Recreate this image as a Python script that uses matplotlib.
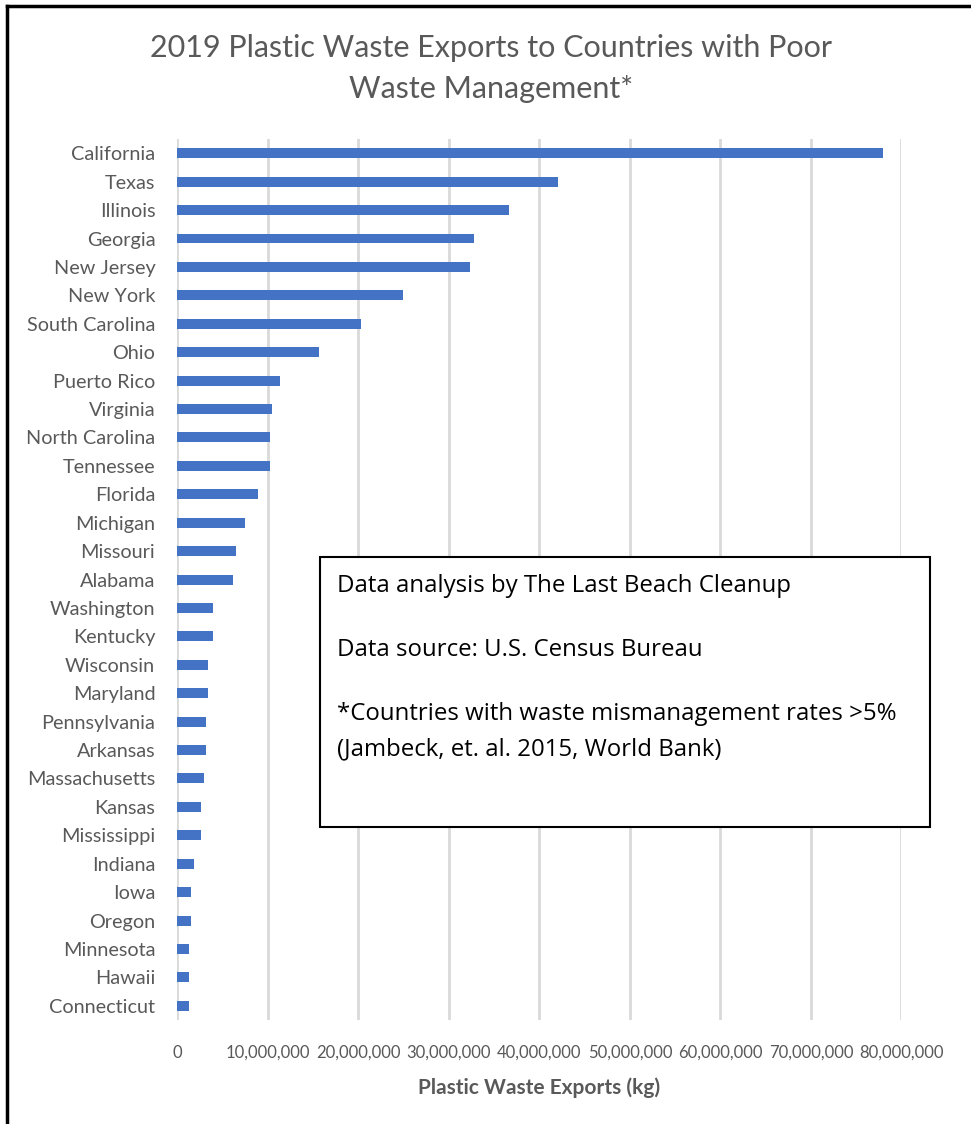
"""2019 plastic waste exports by US state (horizontal bar chart)."""

import matplotlib.pyplot as plt
from matplotlib.lines import Line2D
from matplotlib.patches import Rectangle
from matplotlib.ticker import FuncFormatter

states = [
    "California", "Texas", "Illinois", "Georgia", "New Jersey", "New York",
    "South Carolina", "Ohio", "Puerto Rico", "Virginia", "North Carolina",
    "Tennessee", "Florida", "Michigan", "Missouri", "Alabama", "Washington",
    "Kentucky", "Wisconsin", "Maryland", "Pennsylvania", "Arkansas",
    "Massachusetts", "Kansas", "Mississippi", "Indiana", "Iowa", "Oregon",
    "Minnesota", "Hawaii", "Connecticut",
]
# exports in millions of kg
exports_m = [
    78.0, 42.0, 36.6, 32.8, 32.3, 24.9,
    20.3, 15.6, 11.3, 10.4, 10.2,
    10.2, 8.9, 7.5, 6.5, 6.1, 3.9,
    3.9, 3.4, 3.4, 3.1, 3.1,
    2.9, 2.6, 2.6, 1.8, 1.5, 1.5,
    1.27, 1.27, 1.27,
]
# tiny negative slivers visible left of the axis for a few states
sliver_m = [
    0, 0, 0, -0.15, 0, 0,
    0, 0, 0, -0.15, 0,
    0, 0, 0, 0, 0, 0,
    0, -0.15, -0.15, 0, 0,
    0, 0, 0, 0, 0, 0,
    0, 0, 0,
]
x_ticks_m = [0, 10, 20, 30, 40, 50, 60, 70, 80]

TITLE_LINES = ["2019 Plastic Waste Exports to Countries with Poor", "Waste Management*"]
XLABEL = "Plastic Waste Exports (kg)"
NOTE_LINES = [
    "Data analysis by The Last Beach Cleanup",
    "Data source: U.S. Census Bureau",
    "*Countries with waste mismanagement rates >5%",
    "(Jambeck, et. al. 2015, World Bank)",
]

BAR_COLOR = "#4472C4"
TEXT_GRAY = "#595959"
GRID_GRAY = "#D9D9D9"
FONT = ["Lato", "DejaVu Sans"]
NOTE_FONT = ["Open Sans", "DejaVu Sans"]

W, H = 971, 1124


def fx(px):
    return px / W


def fy(py):
    return 1 - py / H


fig = plt.figure(figsize=(9.71, 11.24), dpi=100)
ax = fig.add_axes([0.1828, 0.0925, 0.7456, 0.7838])

ypos = list(range(len(states)))
ax.barh(ypos, [v * 1e6 for v in exports_m], height=0.35, color=BAR_COLOR, zorder=3)
ax.barh(ypos, [v * 1e6 for v in sliver_m], height=0.35, color=BAR_COLOR, zorder=3)

ax.set_ylim(len(states) - 0.5, -0.5)
ax.set_xlim(0, 80e6)
ax.set_xticks([t * 1e6 for t in x_ticks_m])
ax.xaxis.set_major_formatter(FuncFormatter(lambda v, _: f"{v:,.0f}"))
ax.set_yticks(ypos)
ax.set_yticklabels(states, family=FONT, fontsize=14.3, color=TEXT_GRAY)
for lbl in ax.get_xticklabels():
    lbl.set_family(FONT)
    lbl.set_fontsize(12)
    lbl.set_color(TEXT_GRAY)
ax.tick_params(axis="x", length=0, pad=18)
ax.tick_params(axis="y", length=0, pad=16)
ax.grid(True, axis="x", color=GRID_GRAY, linewidth=2, zorder=0)
for side in ax.spines.values():
    side.set_visible(False)

ax.set_xlabel(XLABEL, family=FONT, fontsize=15, fontweight="bold",
              color=TEXT_GRAY, labelpad=12)

for text, base in zip(TITLE_LINES, [57, 98]):
    fig.text(fx(491), fy(base), text, ha="center", va="baseline", family=FONT,
             fontsize=22, color=TEXT_GRAY)

# annotation box
fig.add_artist(Rectangle((fx(320), fy(827)), 610 / W, 270 / H, transform=fig.transFigure,
                         facecolor="white", edgecolor="black", linewidth=1.5, zorder=5))
for text, base in zip(NOTE_LINES, [592, 656, 720, 755]):
    fig.text(fx(337), fy(base), text, ha="left", va="baseline",
             family=NOTE_FONT, fontsize=17.3, color="black", zorder=6)

# outer frame (top and left only are visible in the reference)
fig.add_artist(Line2D([fx(7), 1.0], [fy(6), fy(6)],
                      transform=fig.transFigure, color="black", linewidth=2.5))
fig.add_artist(Line2D([fx(7), fx(7)], [0.0, fy(6)],
                      transform=fig.transFigure, color="black", linewidth=2.5))

fig.savefig("out.png", dpi=100)
